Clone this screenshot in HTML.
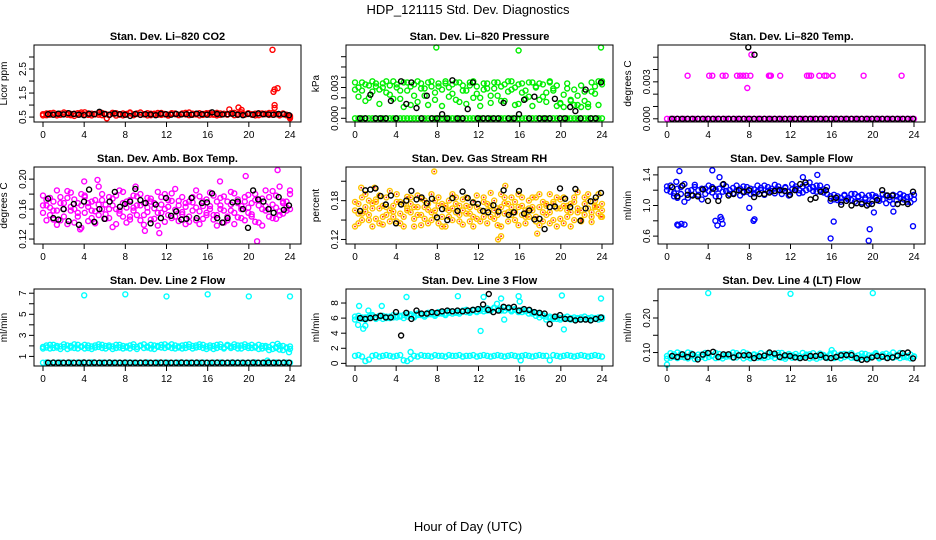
<!DOCTYPE html>
<html><head><meta charset="utf-8"><style>
html,body{margin:0;padding:0;background:#fff;}
svg{display:block;font-family:"Liberation Sans",Arial,sans-serif;}
</style></head><body>
<svg id="chart" width="936" height="540" viewBox="0 0 936 540">
<text x="468" y="14" text-anchor="middle" font-size="13">HDP_121115  Std. Dev. Diagnostics</text>
<text x="468" y="531" text-anchor="middle" font-size="13">Hour of Day (UTC)</text>
</svg>
<script>
const xTicks=[0,4,8,12,16,20,24];
// CO2
const co2A=[0.62,0.58,0.66,0.61,0.57,0.64,0.69,0.6,0.63,0.55,0.66,0.62,0.7,0.59,0.64,0.61,0.67,0.58,0.63,0.6,0.68,0.56,0.62,0.65,0.6,0.66,0.58,0.63,0.69,0.61,0.57,0.64,0.62,0.67,0.59,0.63,0.6,0.66,0.62,0.58,0.65,0.61,0.69,0.6,0.64,0.57,0.63,0.66,0.6,0.62,0.68,0.59,0.64,0.61,0.66,0.58,0.63,0.7,0.6,0.65,0.62,0.57,0.66,0.61,0.64,0.59,0.67,0.62,0.6,0.65,0.58,0.55];
const co2B=[0.57,0.65,0.6,0.68,0.63,0.59,0.62,0.66,0.58,0.64,0.6,0.69,0.61,0.65,0.57,0.63,0.6,0.67,0.62,0.58,0.64,0.66,0.6,0.57,0.63,0.69,0.61,0.65,0.59,0.62,0.66,0.58,0.64,0.6,0.67,0.61,0.56,0.63,0.65,0.6,0.62,0.68,0.58,0.64,0.61,0.66,0.59,0.63,0.67,0.6,0.57,0.65,0.62,0.6,0.64,0.68,0.59,0.63,0.61,0.66,0.6,0.64,0.58,0.65,0.62,0.67,0.6,0.63,0.57,0.62,0.6,0.5];
const co2OutX=[18.1,19,19.3,22.3,22.4,22.5,22.8,22.5,22.5,6.2,24];
const co2OutY=[0.82,0.9,0.8,3.3,1.55,1.65,1.7,1.0,0.88,0.45,0.45];
const co2K=[0.62,0.6,0.64,0.61,0.66,0.63,0.6,0.58,0.64,0.62,0.72,0.63,0.6,0.65,0.62,0.6,0.55,0.63,0.6,0.62,0.61,0.58,0.64,0.62,0.6,0.63,0.61,0.62,0.6,0.64,0.62,0.6,0.7,0.63,0.61,0.62,0.64,0.6,0.58,0.63,0.6,0.65,0.62,0.61,0.6,0.63,0.62,0.58];
// Pressure
const pZero=[0,0,0,0,0,0,0,0,0,0,0,0,0,0,0,0,0,0,0,0,0,0,0,0,0,0,0,0,0,0,0,0,0,0,0,0,0,0,0,0,0,0,0,0,0,0,0,0,0,0,0,0,0,0,0,0,0,0,0,0,0,0,0,0,0,0,0,0,0,0,0,0];
const pA=[.0035,.003,.0027,.0033,.002,.0036,.0031,.0028,.0034,.0025,.0032,.0036,.003,.0019,.0035,.0027,.0013,.0033,.0036,.0029,.0022,.0035,.0031,.0018,.0034,.0028,.0036,.003,.0024,.0035,.0016,.0032,.0027,.0035,.002,.0031,.0012,.0028,.0034,.0022,.0029,.0035,.0017,.0033,.0026,.0036,.003,.0014,.0034,.0027,.0021,.0035,.0031,.0018,.0033,.0025,.0036,.0029,.0012,.0015,.0023,.0034,.0017,.0028,.0013,.0032,.0026,.0011,.0035,.0024,.0036,.0033];
const pB=[.0028,.0021,.0035,.0017,.0032,.0026,.0034,.0014,.003,.0036,.0023,.0019,.0033,.0027,.0011,.0035,.0031,.0022,.0016,.0034,.0029,.0013,.0036,.0025,.0031,.0012,.0034,.0021,.0033,.0018,.0035,.0027,.0014,.0032,.0036,.0024,.002,.0034,.0029,.0015,.0035,.0022,.0031,.0017,.0036,.0028,.0013,.0033,.0025,.0019,.0035,.0012,.003,.0034,.0021,.0016,.0035,.0027,.0032,.0014,.0011,.0029,.0018,.0013,.0022,.0011,.0017,.0014,.0026,.0031,.0013,.0036];
const pOutX=[7.9,15.9,23.9];
const pOutY=[.0069,.0066,.0069];
const pK=[0,0,.0023,0,0,0,.0017,0,.0036,.0014,.0035,.001,0,.0022,0,0,.0004,0,.0037,0,0,.0009,.0035,0,0,0,0,0,.0015,0,0,.0004,.0018,0,.0021,0,0,0,.0019,0,0,.0011,.0007,0,.0028,0,0,.0035];
// Li-820 Temp
const tOutX=[2,4.1,4.4,5.4,5.7,6.8,7.1,7.4,7.7,8.1,9.9,10,10.1,11,13.6,13.8,14,14.8,15.3,15.5,16.1,19.1,22.8,7.8,8.2];
const tOutY=[.0035,.0035,.0035,.0035,.0035,.0035,.0035,.0035,.0035,.0035,.0035,.0035,.0035,.0035,.0035,.0035,.0035,.0035,.0035,.0035,.0035,.0035,.0035,.0025,.0052];
const tKOutX=[7.9,8.5];
const tKOutY=[.0058,.0052];
// Amb box temp
const aA=[.178,.165,.152,.17,.185,.145,.16,.175,.158,.142,.168,.18,.155,.163,.148,.172,.19,.16,.153,.176,.165,.14,.158,.183,.17,.15,.162,.177,.145,.168,.156,.174,.161,.138,.166,.18,.152,.171,.159,.144,.176,.163,.15,.169,.185,.157,.147,.173,.16,.178,.152,.165,.142,.17,.158,.181,.149,.164,.176,.155,.168,.143,.172,.16,.185,.15,.166,.178,.157,.17,.162,.18];
const aB=[.155,.172,.162,.146,.158,.176,.168,.14,.182,.16,.15,.165,.178,.144,.17,.157,.152,.18,.166,.148,.174,.16,.185,.15,.142,.172,.158,.165,.18,.152,.175,.146,.168,.183,.155,.16,.172,.148,.187,.165,.153,.14,.17,.158,.145,.177,.164,.152,.182,.146,.17,.175,.158,.15,.183,.14,.168,.16,.145,.179,.153,.172,.165,.138,.158,.176,.148,.162,.19,.154,.17,.185];
const aC=[.165,.145,.175,.158,.139,.168,.15,.184,.163,.173,.155,.135,.176,.168,.158,.141,.166,.172,.147,.16,.136,.178,.154,.168,.162,.146,.178,.152,.165,.139,.162,.17,.147,.155,.176,.143,.163,.181,.15,.171,.156,.168,.143,.176,.162,.14,.17,.155,.164,.152,.138,.16,.177,.145,.166,.155,.173,.148,.17,.162,.15,.18,.142,.174,.164,.16,.184,.147,.152,.168,.158,.16];
const aOutX=[5.3,22.8,19.7,20.8,11.3,9.9,3.6,17.2,4,9];
const aOutY=[.199,.212,.204,.117,.128,.131,.133,.197,.197,.19];
const aK=[.174,.148,.146,.16,.144,.167,.139,.17,.186,.143,.16,.147,.17,.183,.163,.167,.17,.187,.172,.168,.141,.166,.148,.175,.151,.157,.146,.147,.175,.148,.168,.169,.181,.148,.142,.148,.169,.17,.16,.135,.185,.173,.17,.16,.155,.176,.159,.165];
// Gas stream RH
const rA=[.14,.175,.16,.19,.15,.168,.182,.145,.172,.158,.195,.163,.148,.178,.155,.186,.162,.14,.17,.183,.152,.166,.19,.157,.145,.175,.168,.18,.15,.162,.172,.143,.185,.16,.155,.17,.148,.178,.165,.192,.152,.168,.14,.176,.162,.185,.15,.17,.158,.145,.18,.165,.155,.19,.148,.172,.162,.178,.14,.168,.185,.155,.175,.15,.193,.165,.158,.18,.147,.17,.16,.155];
const rB=[.165,.145,.185,.17,.158,.14,.178,.168,.155,.185,.148,.172,.19,.16,.14,.168,.175,.152,.188,.158,.17,.145,.162,.18,.172,.155,.14,.165,.19,.175,.148,.182,.16,.17,.14,.188,.165,.155,.145,.172,.18,.158,.19,.16,.148,.17,.178,.142,.185,.165,.155,.17,.185,.142,.162,.175,.19,.15,.168,.182,.145,.172,.162,.185,.168,.148,.175,.19,.162,.18,.17,.175];
const rC=[.178,.16,.15,.163,.18,.176,.152,.188,.143,.17,.165,.155,.178,.145,.175,.165,.185,.17,.158,.142,.18,.175,.15,.165,.185,.14,.172,.155,.168,.185,.158,.165,.172,.148,.178,.152,.165,.185,.175,.155,.165,.142,.17,.185,.175,.158,.162,.19,.172,.155,.168,.185,.148,.17,.178,.158,.145,.175,.185,.152,.172,.165,.14,.178,.162,.15,.185,.168,.155,.172,.19,.165];
const rOutX=[7.7,13.9,14.2,14.6,0.6,1.9,17.7,23.9];
const rOutY=[.225,.12,.125,.203,.2,.2,.129,.155];
const rK=[.164,.196,.197,.199,.187,.174,.188,.145,.174,.18,.195,.182,.185,.176,.183,.154,.167,.15,.184,.164,.194,.184,.177,.175,.164,.162,.173,.163,.196,.158,.162,.195,.16,.165,.151,.152,.136,.17,.171,.199,.183,.17,.198,.149,.168,.179,.185,.192];
// Sample flow
const fA=[1.25,1.18,1.12,1.22,1.15,1.28,1.1,1.2,1.24,1.14,1.08,1.22,1.26,1.17,1.21,1.12,1.27,1.19,1.15,1.23,1.2,1.13,1.25,1.18,1.22,1.16,1.26,1.2,1.14,1.24,1.19,1.27,1.21,1.15,1.23,1.18,1.28,1.22,1.16,1.25,1.2,1.3,1.24,1.18,1.26,1.21,1.15,1.12,1.08,1.12,1.05,1.14,1.1,1.07,1.15,1.12,1.04,1.1,1.13,1.06,1.12,1.09,1.15,1.03,1.11,1.14,1.07,1.1,1.13,1.05,1.12,1.08];
const fB=[1.2,1.26,1.16,1.1,1.24,1.05,1.19,1.14,1.27,1.2,1.22,1.15,1.19,1.24,1.12,1.22,1.18,1.25,1.2,1.16,1.26,1.22,1.17,1.24,1.15,1.21,1.18,1.23,1.26,1.19,1.22,1.16,1.25,1.2,1.24,1.13,1.21,1.25,1.2,1.17,1.27,1.22,1.19,1.26,1.2,1.17,1.24,1.06,1.14,1.07,1.1,1.13,1.08,1.15,1.05,1.11,1.14,1.08,1.02,1.14,1.1,1.06,1.08,1.13,1.07,1.02,1.12,1.15,1.08,1.11,1.04,1.14];
const fOutX=[1,1.1,1.4,1.7,1.2,4.4,4.7,4.9,5.2,5.3,5.4,8.4,8.5,8,16.2,15.9,19.6,19.7,20.1,23.9,14.6,13.2,5.1,0.9,22];
const fOutY=[.75,.74,.76,.75,1.45,1.46,.8,.74,.85,.82,.76,.8,.82,.97,.79,.57,.54,.69,.91,.73,1.4,1.37,1.37,1.31,.92];
const fK=[1.24,1.12,1.26,1.14,1.13,1.12,1.21,1.06,1.22,1.06,1.28,1.13,1.15,1.2,1.18,1.2,1.11,1.15,1.15,1.17,1.19,1.2,1.19,1.14,1.2,1.28,1.3,1.08,1.1,1.18,1.2,1.09,1.1,1.01,1.06,1.0,1.03,1.02,1.0,1.02,1.07,1.2,1.13,1.13,1.02,1.04,1.02,1.18];
// Line 2 flow
const L2A=[1.9,2.05,1.75,2.1,1.85,1.95,2.15,1.7,2.0,1.8,2.1,1.9,1.75,2.05,1.95,1.85,2.15,1.8,2.0,1.9,1.7,2.1,1.85,2.0,1.95,1.75,2.15,1.9,2.05,1.8,1.95,2.1,1.7,2.0,1.85,2.15,1.9,1.8,2.05,1.95,1.75,2.1,1.9,2.0,1.85,2.15,1.8,1.95,2.05,1.7,2.1,1.9,1.85,2.0,1.95,2.15,1.75,2.05,1.9,1.8,2.1,1.95,1.7,2.0,1.85,1.6,2.1,1.9,1.65,2.0,1.8,1.95];
const L2B=[1.75,1.85,2.1,1.8,2.0,1.7,1.9,2.05,1.85,2.15,1.75,1.95,2.1,1.8,1.7,2.05,1.9,2.1,1.75,2.05,1.95,1.8,2.1,1.75,1.85,2.05,1.9,1.7,2.0,2.15,1.85,1.75,2.05,1.9,2.1,1.8,2.0,2.15,1.75,1.85,2.05,1.8,2.15,1.75,2.05,1.9,2.1,1.7,1.85,2.0,1.8,2.15,1.75,2.1,1.8,1.9,2.05,1.75,2.15,2.0,1.8,1.85,2.1,1.75,2.0,1.9,1.7,1.8,2.0,1.6,1.85,1.7];
const L2Z=[.4,.42,.38,.41,.4,.43,.39,.4,.41,.38,.42,.4,.39,.41,.43,.4,.38,.41,.4,.42,.39,.4,.41,.38,.4,.42,.4,.39,.41,.4,.43,.38,.4,.41,.39,.42,.4,.38,.41,.4,.42,.39,.4,.41,.38,.4,.42,.4,.39,.41,.4,.43,.38,.4,.41,.39,.42,.4,.38,.41,.4,.42,.39,.4,.41,.38,.4,.42,.4,.39,.41,.4];
const L2OutX=[4,8,12,16,20,24,22.8,21.8,23.9];
const L2OutY=[6.8,6.9,6.7,6.9,6.7,6.7,2.2,0.6,1.4];
const L2K=[.4,.41,.4,.4,.41,.4,.4,.42,.4,.41,.4,.4,.41,.4,.4,.41,.4,.4,.4,.41,.4,.4,.41,.4,.4,.4,.41,.4,.4,.41,.4,.4,.4,.41,.4,.4,.41,.4,.4,.4,.41,.4,.4,.41,.4,.4,.41,.4];
// Line 3 flow
const L3A=[6.2,6.0,5.9,6.1,6.0,6.2,5.9,6.1,6.3,6.0,6.2,6.1,6.3,6.2,6.4,6.2,6.5,6.3,6.4,6.6,6.4,6.5,6.7,6.5,6.6,6.8,6.6,6.7,6.9,6.7,6.8,7.0,6.8,6.9,7.1,6.9,7.0,7.2,7.0,7.1,7.3,7.1,7.2,7.0,7.3,7.1,7.2,7.0,7.1,6.9,7.0,6.8,6.7,6.5,6.3,6.2,6.0,6.1,5.9,6.0,6.1,5.9,6.0,5.8,6.0,6.1,5.9,6.0,5.8,6.0,6.1,5.9];
const L3B=[5.8,6.3,6.1,5.8,6.2,6.4,6.1,6.3,5.9,6.2,6.0,6.4,6.1,6.3,6.0,6.5,6.3,6.1,6.6,6.4,6.2,6.7,6.5,6.3,6.8,6.6,6.4,6.9,6.6,6.8,6.6,6.9,7.1,6.7,7.0,6.8,7.2,6.9,7.3,7.0,7.4,7.2,7.0,7.4,7.2,6.9,7.1,6.8,6.8,7.0,6.6,6.6,6.3,6.1,6.4,5.8,6.2,5.9,6.2,5.8,6.0,6.2,5.8,6.1,5.9,5.8,6.2,5.9,6.1,5.9,5.8,6.1];
const L3Z=[1.0,1.1,0.9,0.3,0.5,1.0,1.1,0.9,1.0,1.1,1.0,0.9,1.0,1.1,0.4,0.3,0.6,1.0,0.9,1.1,1.0,1.0,0.9,1.1,1.0,1.0,0.9,1.1,1.0,1.0,1.1,0.9,1.0,1.0,1.1,0.9,1.0,1.1,1.0,0.9,1.0,1.1,1.0,0.9,1.0,1.1,1.0,0.9,1.0,1.1,1.0,0.9,1.0,1.1,1.0,1.0,0.4,1.1,1.0,0.9,1.0,1.1,1.0,0.9,1.0,1.1,1.0,0.9,1.0,1.1,1.0,0.9];
const L3OutX=[0.4,0.3,0.8,1.0,1.3,2.6,5,10,12.5,12.2,14.5,14.2,13.8,15.9,16,20.1,20.3,23.9,5.4,16.1];
const L3OutY=[7.6,5.1,4.6,5.0,7.0,7.6,8.8,8.9,8.8,4.3,5.8,8.6,7.9,8.9,8.2,9.0,4.5,8.6,1.5,0.4];
const L3K=[6.0,5.9,6.0,6.1,6.3,6.1,6.1,6.8,3.7,6.7,5.9,7.0,6.6,6.6,6.8,6.7,6.9,7.0,6.9,7.0,6.9,7.0,7.1,7.2,7.8,7.1,6.8,7.0,7.5,7.4,7.5,7.0,7.2,7.1,6.8,6.7,6.6,5.2,6.2,6.4,5.9,5.9,5.7,5.8,5.8,5.7,5.9,6.1];
const L3KOutX=[13];
const L3KOutY=[9.2];
// Line 4 flow
const L4A=[.09,.085,.095,.1,.088,.092,.083,.097,.09,.086,.094,.099,.087,.092,.084,.096,.09,.088,.095,.1,.086,.091,.083,.097,.089,.093,.085,.098,.09,.087,.095,.084,.092,.099,.088,.091,.085,.096,.09,.087,.094,.083,.098,.09,.086,.093,.088,.097,.084,.091,.095,.087,.09,.098,.085,.092,.088,.096,.083,.091,.094,.086,.09,.097,.088,.085,.093,.099,.087,.09,.094,.088];
const L4B=[.082,.098,.088,.084,.096,.086,.1,.09,.081,.094,.088,.084,.097,.09,.099,.086,.083,.093,.089,.085,.098,.092,.101,.087,.083,.095,.091,.086,.084,.097,.089,.093,.099,.085,.082,.096,.092,.088,.084,.099,.091,.095,.086,.082,.097,.089,.084,.092,.099,.087,.083,.096,.094,.085,.089,.082,.097,.084,.092,.088,.098,.083,.095,.085,.093,.1,.088,.084,.091,.086,.083,.089];
const L4OutX=[4,12,20,0,16];
const L4OutY=[.272,.27,.272,.065,.107];
const L4K=[.09,.087,.095,.087,.095,.08,.094,.099,.102,.087,.095,.095,.086,.092,.092,.093,.084,.089,.091,.1,.097,.087,.092,.09,.086,.084,.085,.09,.09,.093,.085,.084,.087,.092,.093,.093,.084,.079,.08,.086,.09,.088,.084,.086,.091,.098,.1,.083];

const NS='http://www.w3.org/2000/svg';
const svg=document.getElementById('chart');
function hours(n,a,b){const r=[];for(let i=0;i<n;i++)r.push(a+(b-a)*i/(n-1));return r;}
function mk(tag,attrs,parent){const e=document.createElementNS(NS,tag);for(const k in attrs)e.setAttribute(k,attrs[k]);(parent||svg).appendChild(e);return e;}

const panels=[
 {key:'co2',col:0,row:0,title:'Stan. Dev. Li\u2013820 CO2',ylab:'Licor ppm',ymin:0.295,ymax:3.5,ticks:[0.5,1,1.5,2,2.5,3],labels:['0.5','','1.5','','2.5',''],
  series:[{c:'#ff0000',y:co2A},{c:'#ff0000',y:co2B},{c:'#ff0000',x:co2OutX,y:co2OutY},{c:'#000',y:co2K,k:1}]},
 {key:'pressure',col:1,row:0,title:'Stan. Dev. Li\u2013820 Pressure',ylab:'kPa',ymin:-0.00036,ymax:0.00714,ticks:[0,.001,.002,.003,.004,.005,.006],labels:['0.000','','','0.003','','',''],
  series:[{c:'#00ee00',y:pZero},{c:'#00ee00',y:pA},{c:'#00ee00',y:pB},{c:'#00ee00',x:pOutX,y:pOutY},{c:'#000',y:pK,k:1}]},
 {key:'temp',col:2,row:0,title:'Stan. Dev. Li\u2013820 Temp.',ylab:'degrees C',ymin:-0.00026,ymax:0.00599,ticks:[0,.001,.002,.003,.004,.005],labels:['0.000','','','0.003','',''],
  series:[{c:'#ff00ff',y:pZero},{c:'#ff00ff',x:tOutX,y:tOutY},{c:'#000',y:L2K.map(()=>0),k:1},{c:'#000',x:tKOutX,y:tKOutY}]},
 {key:'ambtemp',col:0,row:1,title:'Stan. Dev. Amb. Box Temp.',ylab:'degrees C',ymin:0.1134,ymax:0.2162,ticks:[.12,.14,.16,.18,.2],labels:['0.12','','0.16','','0.20'],
  series:[{c:'#ff00ff',y:aA},{c:'#ff00ff',y:aB},{c:'#ff00ff',y:aC},{c:'#ff00ff',x:aOutX,y:aOutY},{c:'#000',y:aK,k:1}]},
 {key:'rh',col:1,row:1,title:'Stan. Dev. Gas Stream RH',ylab:'percent',ymin:0.113,ymax:0.232,ticks:[.12,.15,.18,.21],labels:['0.12','','0.18',''],
  series:[{c:'#ffc400',y:rA,dot:1},{c:'#ffc400',y:rB,dot:1},{c:'#ffc400',y:rC,dot:1},{c:'#ffc400',x:rOutX,y:rOutY,dot:1},{c:'#000',y:rK,k:1}]},
 {key:'sampleflow',col:2,row:1,title:'Stan. Dev. Sample Flow',ylab:'ml/min',ymin:0.497,ymax:1.503,ticks:[.6,.8,1,1.2,1.4],labels:['0.6','','1.0','','1.4'],
  series:[{c:'#0000ff',y:fA},{c:'#0000ff',y:fB},{c:'#0000ff',x:fOutX,y:fOutY},{c:'#000',y:fK,k:1}]},
 {key:'line2',col:0,row:2,title:'Stan. Dev. Line 2 Flow',ylab:'ml/min',ymin:0.09,ymax:7.4,ticks:[1,2,3,4,5,6,7],labels:['1','','3','','5','','7'],
  series:[{c:'#00ffff',y:L2A},{c:'#00ffff',y:L2B},{c:'#00ffff',y:L2Z},{c:'#00ffff',x:L2OutX,y:L2OutY},{c:'#000',y:L2K,k:1}]},
 {key:'line3',col:1,row:2,title:'Stan. Dev. Line 3 Flow',ylab:'ml/min',ymin:-0.35,ymax:9.86,ticks:[0,2,4,6,8],labels:['0','2','4','6','8'],
  series:[{c:'#00ffff',y:L3A},{c:'#00ffff',y:L3B},{c:'#00ffff',y:L3Z},{c:'#00ffff',x:L3OutX,y:L3OutY},{c:'#000',y:L3K,k:1},{c:'#000',x:L3KOutX,y:L3KOutY}]},
 {key:'line4',col:2,row:2,title:'Stan. Dev. Line 4 (LT) Flow',ylab:'ml/min',ymin:0.061,ymax:0.284,ticks:[.1,.15,.2,.25],labels:['0.10','','0.20',''],
  series:[{c:'#00ffff',y:L4A},{c:'#00ffff',y:L4B},{c:'#00ffff',x:L4OutX,y:L4OutY},{c:'#000',y:L4K,k:1}]}
];

panels.forEach(p=>{
  const x0=43+p.col*312, top=45+p.row*122, h=77, left=x0-9, right=x0+258, bottom=top+h;
  const xs=t=>x0+t*247/24;
  const ys=v=>top+(p.ymax-v)/(p.ymax-p.ymin)*h;
  const g=mk('g',{});
  
  
  const t=mk('text',{x:(left+right)/2,y:top-5,'text-anchor':'middle','font-size':'11','font-weight':'bold'},g);
  t.textContent=p.title;
  
  
  const yl=mk('text',{transform:`translate(${left-27},${top+h/2}) rotate(-90)`,'text-anchor':'middle','font-size':'10'},g);
  yl.textContent=p.ylab;
  
  
  const pts=mk('g',{fill:'none','stroke-width':'1.4'},g);
  
  
  p.series.forEach(s=>{
    const xv=s.x||(s.k?hours(s.y.length,0.5,23.9):hours(s.y.length,0,24));
    s.y.forEach((v,i)=>{
      const cx=xs(xv[i]).toFixed(1), cy=ys(v).toFixed(1);
      const c=mk('circle',{cx:cx,cy:cy,r:'2.5',stroke:s.c,fill:'none'},pts);
      
      
      if(s.dot){
        const d=mk('circle',{cx:cx,cy:cy,r:'0.9',fill:'#ff2000',stroke:'none'},pts);
        
        
      }
    });
  });
  const box=mk('rect',{x:left,y:top,width:right-left,height:h,fill:'none',stroke:'#000','stroke-width':'1'},g);
  
  
  xTicks.forEach(v=>{
    const X=xs(v);
    mk('line',{x1:X,x2:X,y1:bottom,y2:bottom+5,stroke:'#000'},g);
    const tl=mk('text',{x:X,y:bottom+16,'text-anchor':'middle','font-size':'10'},g);
    tl.textContent=v;
    
    
  });
  p.ticks.forEach((v,i)=>{
    const Y=ys(v);
    mk('line',{x1:left-5,x2:left,y1:Y,y2:Y,stroke:'#000'},g);
    if(p.labels[i]){
      const tl=mk('text',{transform:`translate(${left-8},${Y}) rotate(-90)`,'text-anchor':'middle','font-size':'10'},g);
      tl.textContent=p.labels[i];
      
      
    }
  });
});
</script>
</body></html>
